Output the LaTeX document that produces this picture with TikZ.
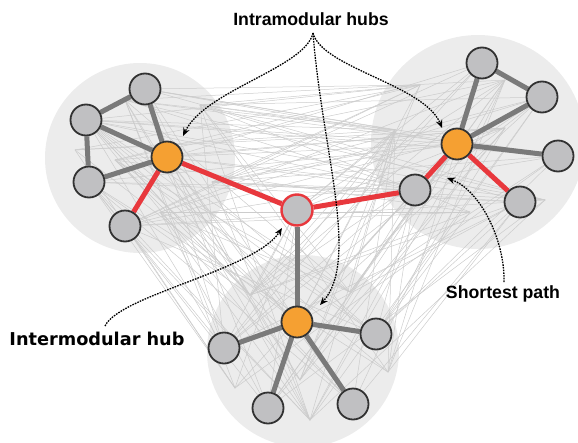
\documentclass[tikz,border=0pt]{standalone}
\usepackage{fontspec}
\setmainfont{Liberation Sans}
\newfontfamily\dejavu{DejaVu Sans}
\usetikzlibrary{arrows.meta}
\pgfdeclarelayer{back}\pgfdeclarelayer{thin}\pgfdeclarelayer{thick}
\pgfsetlayers{back,thin,thick,main}
\definecolor{ndgray}{RGB}{192,192,194}
\definecolor{ndborder}{RGB}{50,50,50}
\definecolor{hubor}{RGB}{245,160,50}
\definecolor{redl}{RGB}{232,56,61}
\definecolor{thickg}{RGB}{122,122,122}
\definecolor{modbg}{RGB}{236,236,236}
\definecolor{thinl}{RGB}{204,204,204}
\begin{document}
\begin{tikzpicture}[x=1pt,y=-1pt,
  nd/.style={circle,draw=ndborder,line width=1.8pt,fill=ndgray,minimum size=31pt,inner sep=0pt},
  hub/.style={nd,fill=hubor},
  ctr/.style={nd,draw=redl,line width=2.4pt},
  gedge/.style={draw=thickg,line width=5pt},
  redge/.style={draw=redl,line width=5pt},
  bgline/.style={draw=thinl,line width=0.5pt},
  lbl/.style={font=\fontsize{17.7}{20}\selectfont\bfseries,inner sep=0pt},
  pointer/.style={draw=black,line width=1.3pt,dash pattern=on 1.6pt off 1.1pt,-{Stealth[length=8pt,width=6.5pt]}}]
\useasboundingbox (0,0) rectangle (578,442);
% left module
\node[nd] (L1) at (145,89) {};
\node[nd] (L2) at (86,120) {};
\node[nd] (L3) at (89,182) {};
\node[hub] (LH) at (167,157) {};
\node[nd] (L4) at (125,226) {};
% right module
\node[nd] (R1) at (482,63) {};
\node[nd] (R2) at (542,97) {};
\node[nd] (R3) at (558,156) {};
\node[nd] (R4) at (520,202) {};
\node[hub] (RH) at (457,144) {};
\node[nd] (R5) at (415,190) {};
% centre
\node[ctr] (C) at (297,210) {};
% bottom module
\node[hub] (BH) at (297,322) {};
\node[nd] (B1) at (224,348) {};
\node[nd] (B2) at (268,408) {};
\node[nd] (B3) at (376,334) {};
\node[nd] (B4) at (353,404) {};
% hidden anchor points of the faint background links
\coordinate (h1) at (125,100);
\coordinate (h2) at (200,105);
\coordinate (h3) at (75,150);
\coordinate (h4) at (212,182);
\coordinate (h5) at (160,212);
\coordinate (h6) at (115,160);
\coordinate (k1) at (420,85);
\coordinate (k2) at (505,80);
\coordinate (k3) at (395,130);
\coordinate (k4) at (505,128);
\coordinate (k5) at (470,212);
\coordinate (k6) at (545,200);
\coordinate (m1) at (250,295);
\coordinate (m2) at (350,292);
\coordinate (m3) at (235,388);
\coordinate (m4) at (310,420);
\coordinate (m5) at (388,372);
\coordinate (m6) at (300,380);
% labels
\node[lbl] (tIntra) at (311,19) {Intramodular hubs};
\node[lbl,font=\fontsize{17.7}{20}\selectfont\bfseries\dejavu] (tInter) at (97,339) {Intermodular hub};
\node[lbl] (tShort) at (503,294) {Shortest path};
\coordinate (sIntra) at (313,33);
\coordinate (eLH) at (183,136);
\coordinate (eRH) at (442,128);
\coordinate (eBH) at (320,305);
\coordinate (sInter) at (105,326);
\coordinate (eC) at (282,228);
\coordinate (sShort) at (504,282);
\coordinate (eR) at (447,178);
\begin{pgfonlayer}{back}
  \fill[modbg] (140,158) circle (95pt);
  \fill[modbg] (478,142) circle (107pt);
  \fill[modbg] (303,351) circle (96pt);
\end{pgfonlayer}
\begin{pgfonlayer}{thin}
  \pgfmathsetseed{11}
  \foreach \a in {L1,L2,L3,LH,L4,h1,h2,h3,h4,h5,h6,C}{
    \foreach \b in {R1,R2,R3,R4,RH,R5,k1,k2,k3,k4,k5,k6}{
      \pgfmathtruncatemacro\ok{rnd<0.38}
      \ifnum\ok=1 \draw[bgline] (\a) -- (\b);\fi
    }
    \foreach \b in {BH,B1,B2,B3,B4,m1,m2,m3,m4,m5,m6}{
      \pgfmathtruncatemacro\ok{rnd<0.35}
      \ifnum\ok=1 \draw[bgline] (\a) -- (\b);\fi
    }
  }
  \foreach \a in {R1,R2,R3,R4,RH,R5,k1,k2,k3,k4,k5,k6}{
    \foreach \b in {BH,B1,B2,B3,B4,m1,m2,m3,m4,m5,m6}{
      \pgfmathtruncatemacro\ok{rnd<0.35}
      \ifnum\ok=1 \draw[bgline] (\a) -- (\b);\fi
    }
  }
\end{pgfonlayer}
\begin{pgfonlayer}{thick}
  \draw[gedge] (L1) -- (L2);
  \draw[gedge] (L1) -- (LH);
  \draw[gedge] (L2) -- (LH);
  \draw[gedge] (L2) -- (L3);
  \draw[gedge] (L3) -- (LH);
  \draw[redge] (LH) -- (L4);
  \draw[redge] (LH) -- (C);
  \draw[gedge] (R1) -- (R2);
  \draw[gedge] (R1) -- (RH);
  \draw[gedge] (R2) -- (RH);
  \draw[gedge] (R3) -- (RH);
  \draw[redge] (RH) -- (R4);
  \draw[redge] (RH) -- (R5);
  \draw[redge] (R5) -- (C);
  \draw[gedge] (C) -- (BH);
  \draw[gedge] (BH) -- (B1);
  \draw[gedge] (BH) -- (B2);
  \draw[gedge] (BH) -- (B3);
  \draw[gedge] (BH) -- (B4);
\end{pgfonlayer}
% pointers
\draw[pointer] (sIntra) .. controls (305,68) and (205,90) .. (eLH);
\draw[pointer] (sIntra) .. controls (322,68) and (425,85) .. (eRH);
\draw[pointer] (sIntra) .. controls (322,150) and (360,260) .. (eBH);
\draw[pointer] (sInter) .. controls (120,295) and (255,270) .. (eC);
\draw[pointer] (sShort) .. controls (505,240) and (480,190) .. (eR);
\end{tikzpicture}
\end{document}
